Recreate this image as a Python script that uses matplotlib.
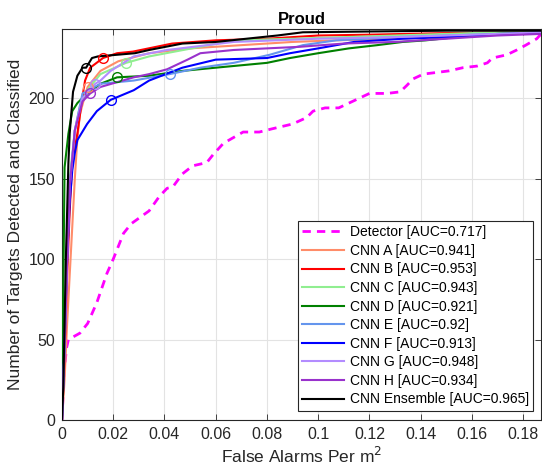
import matplotlib
matplotlib.use('Agg')
import matplotlib.pyplot as plt

plt.rcParams['font.family'] = ['Liberation Sans', 'DejaVu Sans']

# ── Data ──────────────────────────────────────────────────────────
det_x = [0, 0.0008, 0.0018, 0.0025, 0.007, 0.010, 0.0136, 0.0175, 0.020, 0.024, 0.027,
         0.034, 0.038, 0.041, 0.0433, 0.047, 0.051, 0.0565, 0.059, 0.063, 0.0707, 0.077,
         0.082, 0.090, 0.0955, 0.098, 0.1027, 0.108, 0.112, 0.116, 0.120, 0.127, 0.132,
         0.1346, 0.137, 0.141, 0.146, 0.151, 0.1565, 0.162, 0.166, 0.168, 0.1736, 0.1775,
         0.181, 0.1853, 0.187]
det_y = [0, 30, 45, 50, 54, 60, 73, 91, 100, 116, 122, 130, 139, 144, 145, 153, 158, 160,
         165, 172, 179, 179, 181, 184, 188, 192, 194, 194, 197, 200, 203, 203, 204, 208,
         212, 215, 216, 217, 219, 220, 222, 225, 227, 230, 233, 237, 240]

cnn_a_x = [0, 0.001, 0.002, 0.004, 0.005, 0.006, 0.007, 0.009, 0.010, 0.015, 0.022, 0.034,
           0.05, 0.07, 0.09, 0.107, 0.13, 0.15, 0.17, 0.187]
cnn_a_y = [0, 25, 60, 120, 150, 175, 190, 202, 207, 217, 223, 228, 231, 233, 235, 236,
           237, 238, 240, 241]

cnn_b_x = [0, 0.001, 0.002, 0.003, 0.004, 0.006, 0.0078, 0.009, 0.011, 0.016, 0.0215,
           0.0277, 0.043, 0.06, 0.08, 0.1, 0.12, 0.15, 0.17, 0.187]
cnn_b_y = [0, 40, 90, 130, 160, 178, 199, 211, 219, 225, 228, 229, 234, 236, 237, 239,
           239.5, 240.5, 241, 241]

cnn_c_x = [0, 0.001, 0.002, 0.003, 0.005, 0.007, 0.0098, 0.015, 0.025, 0.034, 0.054,
           0.067, 0.09, 0.11, 0.13, 0.15, 0.17, 0.187]
cnn_c_y = [0, 50, 110, 150, 180, 195, 205, 215, 222, 226, 232, 236, 237, 238, 239, 240,
           241, 241]

cnn_d_x = [0, 0.0005, 0.001, 0.0025, 0.004, 0.006, 0.0098, 0.015, 0.0215, 0.034, 0.047,
           0.06, 0.08, 0.089, 0.1, 0.112, 0.123, 0.133, 0.142, 0.16, 0.175, 0.187]
cnn_d_y = [0, 80, 157, 178, 192, 197, 203, 209, 213, 214, 217, 219, 222, 225, 228, 231,
           233, 235, 236, 239, 240.5, 241]

cnn_e_x = [0, 0.001, 0.002, 0.003, 0.005, 0.008, 0.015, 0.028, 0.042, 0.054, 0.067, 0.081,
           0.094, 0.107, 0.13, 0.15, 0.17, 0.187]
cnn_e_y = [0, 45, 100, 145, 180, 203, 209, 211, 215, 219, 222, 227, 233, 236, 238, 239,
           240, 241]

cnn_f_x = [0, 0.001, 0.002, 0.003, 0.004, 0.005, 0.006, 0.0098, 0.0136, 0.019, 0.028, 0.034,
           0.047, 0.06, 0.08, 0.089, 0.1, 0.114, 0.133, 0.15, 0.16, 0.175, 0.187]
cnn_f_y = [0, 50, 100, 135, 155, 166, 174, 184, 192, 199, 205, 211, 219, 224, 225, 228,
           231, 235, 237, 238, 239, 240, 241]

cnn_g_x = [0, 0.001, 0.002, 0.003, 0.005, 0.008, 0.013, 0.015, 0.019, 0.028, 0.041, 0.067,
           0.1, 0.13, 0.15, 0.17, 0.187]
cnn_g_y = [0, 45, 100, 145, 180, 200, 209, 211, 217, 226, 230, 235, 237, 238, 239, 240, 241]

cnn_h_x = [0, 0.001, 0.002, 0.003, 0.005, 0.008, 0.011, 0.015, 0.028, 0.034, 0.041, 0.049,
           0.054, 0.067, 0.093, 0.11, 0.13, 0.15, 0.17, 0.187]
cnn_h_y = [0, 45, 100, 145, 180, 198, 203, 207, 213, 215, 218, 224, 228, 230, 232, 234,
           235, 237, 239, 240]

ens_x = [0, 0.0005, 0.0015, 0.0025, 0.003, 0.0043, 0.006, 0.008, 0.0094, 0.0117, 0.014,
         0.0285, 0.034, 0.047, 0.06, 0.072, 0.084, 0.094, 0.12, 0.15, 0.187]
ens_y = [0, 20, 100, 160, 178, 204, 214, 219, 219, 225, 226, 228, 230, 234, 235, 237,
         239, 241, 241.5, 242, 242]

# operating points (circle markers)
op_pts = {
    'A': (0.010, 207), 'B': (0.016, 225), 'C': (0.025, 222), 'D': (0.0215, 213),
    'E': (0.042, 215), 'F': (0.019, 199), 'G': (0.013, 209), 'H': (0.011, 203),
    'Ens': (0.0094, 219),
}

series = [
    ('A', 'CNN A [AUC=0.941]', cnn_a_x, cnn_a_y, '#FF8C69'),
    ('B', 'CNN B [AUC=0.953]', cnn_b_x, cnn_b_y, '#FF0000'),
    ('C', 'CNN C [AUC=0.943]', cnn_c_x, cnn_c_y, '#90EE90'),
    ('D', 'CNN D [AUC=0.921]', cnn_d_x, cnn_d_y, '#008000'),
    ('E', 'CNN E [AUC=0.92]', cnn_e_x, cnn_e_y, '#6495ED'),
    ('F', 'CNN F [AUC=0.913]', cnn_f_x, cnn_f_y, '#0000FF'),
    ('G', 'CNN G [AUC=0.948]', cnn_g_x, cnn_g_y, '#B38CFF'),
    ('H', 'CNN H [AUC=0.934]', cnn_h_x, cnn_h_y, '#9932CC'),
    ('Ens', 'CNN Ensemble [AUC=0.965]', ens_x, ens_y, '#000000'),
]

# ── Figure ─────────────────────────────────────────────────────────
fig = plt.figure(figsize=(5.42, 4.75), dpi=100)
ax = fig.add_axes([0.1144, 0.1158, 0.884, 0.823])

ax.plot(det_x, det_y, color='#FF00FF', ls=(0, (3, 2.2)), lw=2,
        label='Detector [AUC=0.717]', zorder=2)
for key, label, xs, ys, col in series:
    ax.plot(xs, ys, color=col, lw=1.5, label=label, zorder=3)
    px, py = op_pts[key]
    ax.plot(px, py, marker='o', ms=7, mfc='none', mec=col, mew=1.0, zorder=4)

ax.set_xlim(0, 0.187)
ax.set_ylim(0, 243)
ax.set_xticks([0, 0.02, 0.04, 0.06, 0.08, 0.1, 0.12, 0.14, 0.16, 0.18])
ax.set_xticklabels(['0', '0.02', '0.04', '0.06', '0.08', '0.1', '0.12', '0.14', '0.16', '0.18'])
ax.set_yticks([0, 50, 100, 150, 200])
ax.tick_params(direction='in', labelsize=11.5, colors='#262626', top=True, right=True,
               length=4, width=0.6, pad=5)
for sp in ax.spines.values():
    sp.set_color('#262626')
    sp.set_linewidth(0.8)
ax.grid(True, color='#E3E3E3', lw=0.8)
ax.set_axisbelow(True)

ax.set_xlabel('False Alarms Per m$^2$', fontsize=12.5, color='#262626', labelpad=3)
ax.set_ylabel('Number of Targets Detected and Classified', fontsize=12.5, color='#262626',
              labelpad=4)
ax.set_title('Proud', fontsize=12, fontweight='bold', pad=4)

leg = ax.legend(loc='lower right', bbox_to_anchor=(0.983, 0.024), borderaxespad=0,
                fontsize=10, handlelength=3.0, handletextpad=0.4, labelspacing=0.33,
                fancybox=False, framealpha=1, edgecolor='#262626', borderpad=0.3)
leg.get_frame().set_linewidth(0.8)

plt.savefig('out.png', dpi=100)
